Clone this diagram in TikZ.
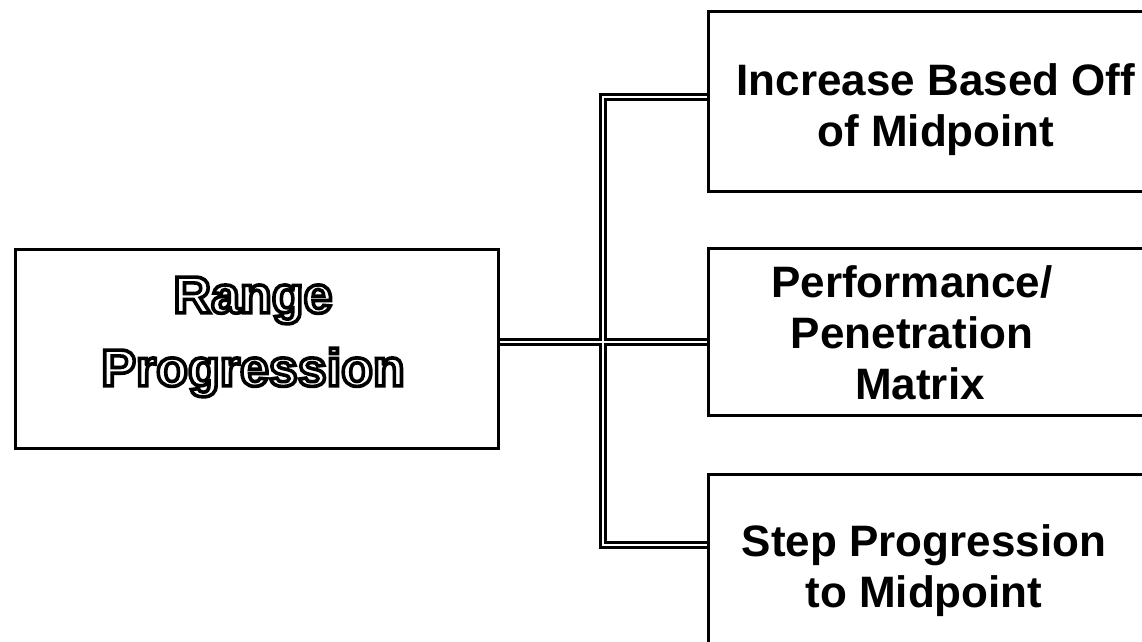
\documentclass[tikz,border=0pt]{standalone}
\usepackage{fontspec}
\setmainfont{Liberation Sans}

\tikzset{
  box/.style={draw=black, line width=3pt, fill=white, inner sep=0pt, anchor=north west},
  lbl/.style={align=center, inner sep=0pt, font=\fontsize{44}{51}\selectfont\bfseries},
  hollow/.style={align=center, inner sep=0pt, font=\fontsize{52}{73}\selectfont\bfseries},
  linkouter/.style={draw=black, line width=8.5pt},
  linkinner/.style={draw=white, line width=2.2pt}
}
% white glyphs with a black stroked outline (PDF text render mode 2)
\newcommand{\hollowtext}[1]{\special{pdf:literal direct 2 Tr 3.6 w 1 1 1 rg 0 0 0 RG}#1\special{pdf:literal direct 0 Tr 0 0 0 rg 0 0 0 RG}}

\begin{document}
\begin{tikzpicture}[x=1pt, y=-1pt]
  \useasboundingbox (0,0) rectangle (1142,641);
  \clip (0,0) rectangle (1142,641);

  % boxes (the right-hand ones run past the page edge)
  \node[box, minimum width=483pt, minimum height=199pt] (range) at (14,248) {};
  \node[box, minimum width=480pt, minimum height=180pt] (inc) at (707,10) {};
  \node[box, minimum width=480pt, minimum height=167pt] (perf) at (707,247) {};
  \node[box, minimum width=480pt, minimum height=240pt] (step) at (707,473) {};

  % junction points of the tree
  \coordinate (j) at (603,342);
  \coordinate (jt) at (603,97);
  \coordinate (jb) at (603,545);

  % double-line connectors: black body first, white core on top
  \foreach \st in {linkouter, linkinner} {
    \draw[\st] (range.east |- j) -- (j) -- (perf.west |- j);
    \draw[\st] (j) -- (jt) -- (inc.west |- jt);
    \draw[\st] (j) -- (jb) -- (step.west |- jb);
  }

  % labels
  \node[hollow] (rangeText) at (253,337) {\hollowtext{Range}\\\hollowtext{Progression}};
  \node[lbl] (incText) at (936,110) {Increase Based Off\\of Midpoint};
  \node[lbl] (perfText) at (912,333) {Performance/\\Penetration\\\hspace*{16pt}Matrix};
  \node[lbl] (stepText) at (924,571) {Step Progression\\to Midpoint};
\end{tikzpicture}
\end{document}
